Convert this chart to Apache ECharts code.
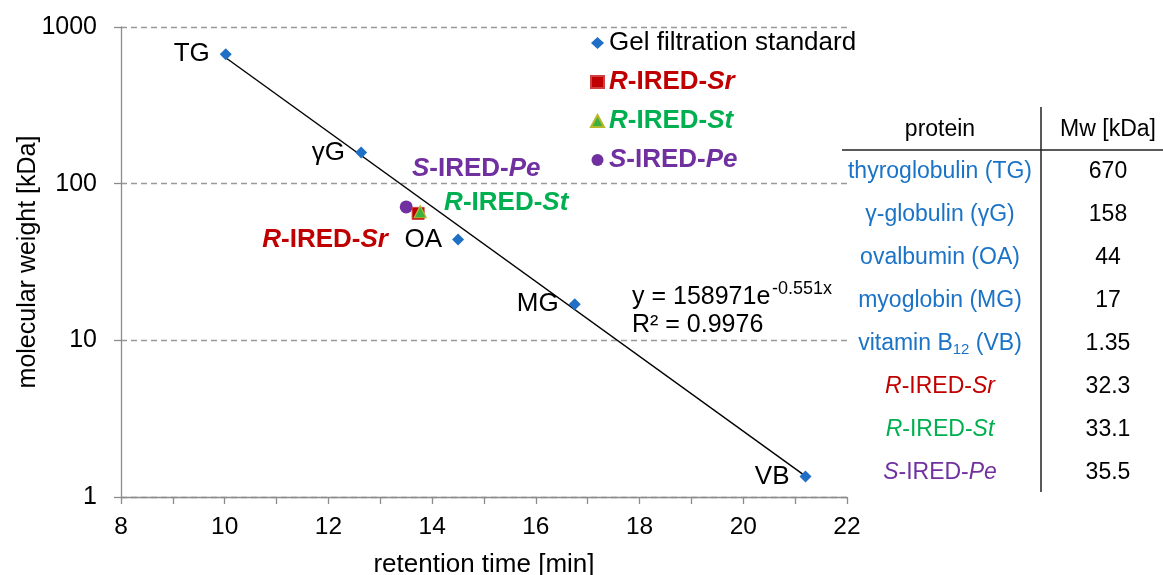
<!DOCTYPE html>
<html>
<head>
<meta charset="utf-8">
<script src="https://cdn.jsdelivr.net/npm/echarts@6/dist/echarts.min.js"></script>
<style>
html,body{margin:0;padding:0;background:#fff;}
#c{width:1163px;height:575px;}
</style>
</head>
<body>
<div id="c"></div>
<script>
// ---- data ----
const stdNames = ['TG', 'γG', 'OA', 'MG', 'VB'];
const stdTime = [10.02, 12.63, 14.5, 16.75, 21.2];
const stdMw = [670, 158, 44, 17, 1.35];

const srTime = [13.73];
const srMw = [64.6];
const stTime = [13.77];
const stMw = [66.2];
const peTime = [13.5];
const peMw = [71];

const trendTime = [10.02, 21.2];
const trendMw = [636, 1.36];

const xTicks = [8, 10, 12, 14, 16, 18, 20, 22];
const yTicks = [1, 10, 100, 1000];

const tableProteins = ['thyroglobulin (TG)', 'γ-globulin (γG)', 'ovalbumin (OA)', 'myoglobin (MG)', 'vitamin B{sub|12} (VB)',
  '{i|R}-IRED-{i|Sr}', '{i|R}-IRED-{i|St}', '{i|S}-IRED-{i|Pe}'];
const tableMw = ['670', '158', '44', '17', '1.35', '32.3', '33.1', '35.5'];

// ---- styles ----
const FONT = "'Liberation Sans', Arial, sans-serif";
const BLUE = '#1f6fc5';
const TBLUE = '#1a73c6';
const RED = '#c00000';
const GREEN = '#00b050';
const PURPLE = '#7030a0';
const rowColors = [TBLUE, TBLUE, TBLUE, TBLUE, TBLUE, RED, GREEN, PURPLE];
const LF = 26; // legend / annotation font size
const TF = 23; // table font size

const chart = echarts.init(document.getElementById('c'), null, {renderer: 'canvas'});

function zip(a, b) { return a.map((v, i) => [v, b[i]]); }

function iredRich(color, size) {
  return {
    i: {color: color, fontWeight: 'bold', fontStyle: 'italic', fontSize: size, fontFamily: FONT},
    b: {color: color, fontWeight: 'bold', fontSize: size, fontFamily: FONT}
  };
}

const legendRich = {
  g: {color: '#000', fontSize: LF, fontFamily: FONT, lineHeight: 28},
  ri: {color: RED, fontWeight: 'bold', fontStyle: 'italic', fontSize: LF, fontFamily: FONT, lineHeight: 28},
  rb: {color: RED, fontWeight: 'bold', fontSize: LF, fontFamily: FONT, lineHeight: 28},
  gi: {color: GREEN, fontWeight: 'bold', fontStyle: 'italic', fontSize: LF, fontFamily: FONT, lineHeight: 28},
  gb: {color: GREEN, fontWeight: 'bold', fontSize: LF, fontFamily: FONT, lineHeight: 28},
  pi: {color: PURPLE, fontWeight: 'bold', fontStyle: 'italic', fontSize: LF, fontFamily: FONT, lineHeight: 28},
  pb: {color: PURPLE, fontWeight: 'bold', fontSize: LF, fontFamily: FONT, lineHeight: 28}
};
const legendFmt = {
  'Gel filtration standard': '{g|Gel filtration standard}',
  'R-IRED-Sr': '{ri|R}{rb|-IRED-}{ri|Sr}',
  'R-IRED-St': '{gi|R}{gb|-IRED-}{gi|St}',
  'S-IRED-Pe': '{pi|S}{pb|-IRED-}{pi|Pe}'
};

// table graphics
const graphics = [];
const rowY0 = 172, rowStep = 42.9;
graphics.push({type: 'text', x: 940, y: 130, style: {text: 'protein', fill: '#000', font: TF + 'px ' + FONT, align: 'center', verticalAlign: 'middle'}});
graphics.push({type: 'text', x: 1108, y: 130, style: {text: 'Mw [kDa]', fill: '#000', font: TF + 'px ' + FONT, align: 'center', verticalAlign: 'middle'}});
graphics.push({type: 'line', shape: {x1: 842, y1: 150, x2: 1163, y2: 150}, style: {stroke: '#222', lineWidth: 1.5}});
graphics.push({type: 'line', shape: {x1: 1041, y1: 107, x2: 1041, y2: 492}, style: {stroke: '#222', lineWidth: 1.5}});
tableProteins.forEach((p, i) => {
  const c = rowColors[i];
  graphics.push({
    type: 'text', x: 940, y: rowY0 + i * rowStep,
    style: {
      text: p, fill: c, font: TF + 'px ' + FONT, align: 'center', verticalAlign: 'middle',
      rich: {
        sub: {fontSize: 15, fill: c, fontFamily: FONT, verticalAlign: 'bottom', padding: [13, 0, 0, 0]},
        i: {fontStyle: 'italic', fontSize: TF, fill: c, fontFamily: FONT}
      }
    }
  });
  graphics.push({
    type: 'text', x: 1108, y: rowY0 + i * rowStep,
    style: {text: tableMw[i], fill: '#000', font: TF + 'px ' + FONT, align: 'center', verticalAlign: 'middle'}
  });
});
// trendline equation
graphics.push({type: 'text', x: 632, y: 297, style: {text: 'y = 158971e', fill: '#000', font: '25px ' + FONT, align: 'left', verticalAlign: 'middle'}});
graphics.push({type: 'text', x: 772, y: 289, style: {text: '-0.551x', fill: '#000', font: '18px ' + FONT, align: 'left', verticalAlign: 'middle'}});
graphics.push({type: 'text', x: 632, y: 325, style: {text: 'R² = 0.9976', fill: '#000', font: '25px ' + FONT, align: 'left', verticalAlign: 'middle'}});

const option = {
  animation: false,
  backgroundColor: '#fff',
  textStyle: {fontFamily: FONT},
  grid: {left: 121, right: 316, top: 27, bottom: 78, containLabel: false, outerBoundsMode: 'none'},
  legend: {
    orient: 'vertical', left: 585, top: 25,
    itemWidth: 13, itemHeight: 12, itemGap: 13,
    data: ['Gel filtration standard', 'R-IRED-Sr', 'R-IRED-St', 'S-IRED-Pe'],
    formatter: n => legendFmt[n],
    textStyle: {rich: legendRich, fontSize: LF},
    selectedMode: false
  },
  xAxis: {
    type: 'value', min: 8, max: 22, interval: 1,
    axisLine: {lineStyle: {color: '#8c8c8c', width: 1.3}},
    axisTick: {show: true, length: 7, lineStyle: {color: '#8c8c8c', width: 1.3}},
    axisLabel: {
      fontSize: 24.5, color: '#000', fontFamily: FONT, margin: 18,
      formatter: v => xTicks.indexOf(v) >= 0 ? String(v) : ''
    },
    splitLine: {show: false},
    name: 'retention time [min]', nameLocation: 'middle', nameGap: 55, nameMoveOverlap: false,
    nameTextStyle: {fontSize: 26, color: '#000', fontFamily: FONT}
  },
  yAxis: {
    type: 'log', logBase: 10, min: 1, max: 1000,
    axisLine: {show: true, lineStyle: {color: '#8c8c8c', width: 1.3}},
    axisTick: {show: true, length: 7, lineStyle: {color: '#8c8c8c', width: 1.3}},
    axisLabel: {
      fontSize: 25, color: '#000', fontFamily: FONT, margin: 24,
      formatter: v => yTicks.indexOf(Math.round(v)) >= 0 ? String(Math.round(v)) : ''
    },
    splitLine: {show: true, lineStyle: {color: '#999', type: [6, 4], width: 1.3}},
    name: 'molecular weight [kDa]', nameLocation: 'middle', nameGap: 80, nameMoveOverlap: false,
    nameTextStyle: {fontSize: 25, color: '#000', fontFamily: FONT}
  },
  graphic: graphics,
  series: [
    {
      type: 'line', name: 'trend', data: zip(trendTime, trendMw),
      showSymbol: false, symbol: 'none', lineStyle: {color: '#000', width: 1.4}, silent: true, z: 1
    },
    {
      type: 'scatter', name: 'Gel filtration standard',
      data: zip(stdTime, stdMw).map((d, i) => ({value: d, name: stdNames[i]})),
      symbol: 'diamond', symbolSize: 12,
      itemStyle: {color: BLUE, opacity: 1},
      label: {show: true, position: 'left', distance: 10, formatter: p => p.name, color: '#000', fontSize: LF, fontFamily: FONT},
      z: 3
    },
    {
      type: 'scatter', name: 'R-IRED-Sr', data: zip(srTime, srMw),
      symbol: 'rect', symbolSize: 12,
      itemStyle: {color: RED, borderColor: '#d04040', borderWidth: 1, opacity: 1},
      label: {show: true, position: 'inside', offset: [-93, 26], formatter: '{i|R}{b|-IRED-}{i|Sr}', rich: iredRich(RED, LF)},
      z: 3
    },
    {
      type: 'scatter', name: 'R-IRED-St', data: zip(stTime, stMw),
      symbol: 'triangle', symbolSize: 12,
      itemStyle: {color: '#3cb043', borderColor: '#b5b82a', borderWidth: 1.2, opacity: 1},
      label: {show: true, position: 'inside', offset: [86, -9], formatter: '{i|R}{b|-IRED-}{i|St}', rich: iredRich(GREEN, LF)},
      z: 4
    },
    {
      type: 'scatter', name: 'S-IRED-Pe', data: zip(peTime, peMw),
      symbol: 'circle', symbolSize: 13,
      itemStyle: {color: PURPLE, opacity: 1},
      label: {show: true, position: 'inside', offset: [70, -38], formatter: '{i|S}{b|-IRED-}{i|Pe}', rich: iredRich(PURPLE, LF)},
      z: 2
    }
  ]
};
chart.setOption(option);
</script>
</body>
</html>
